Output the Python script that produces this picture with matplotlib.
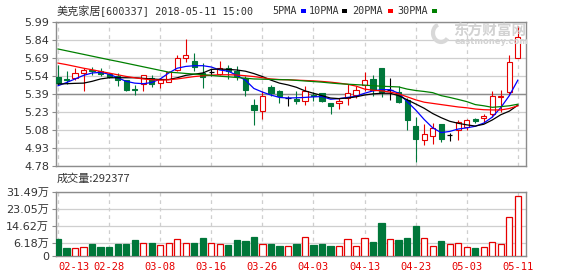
import numpy as np
import matplotlib
matplotlib.use('Agg')
import matplotlib.pyplot as plt
from matplotlib.patches import Rectangle, Arc

plt.rcParams['font.family'] = ['DejaVu Sans', 'Noto Sans CJK SC']

# trading days shown (2018)
dates = ['02-13', '02-14', '02-22', '02-23', '02-26', '02-27', '02-28',
         '03-01', '03-02', '03-05', '03-06', '03-07', '03-08', '03-09', '03-12',
         '03-13', '03-14', '03-15', '03-16', '03-19', '03-20', '03-21', '03-22',
         '03-23', '03-26', '03-27', '03-28', '03-29', '03-30', '04-02', '04-03',
         '04-04', '04-09', '04-10', '04-11', '04-12', '04-13', '04-16', '04-17',
         '04-18', '04-19', '04-20', '04-23', '04-24', '04-25', '04-26', '04-27',
         '05-02', '05-03', '05-04', '05-07', '05-08', '05-09', '05-10', '05-11']

opens = [5.525, 5.51, 5.514, 5.564, 5.587, 5.573, 5.55, 5.531, 5.497, 5.426,
         5.469, 5.522, 5.475, 5.488, 5.587, 5.685, 5.662, 5.564, 5.57, 5.551,
         5.601, 5.573, 5.517, 5.293, 5.237, 5.441, 5.405, 5.35, 5.343, 5.329,
         5.377, 5.391, 5.307, 5.31, 5.349, 5.377, 5.461, 5.509, 5.60, 5.42,
         5.40, 5.33, 5.113, 5.001, 5.035, 5.136, 5.038, 5.08, 5.108, 5.178,
         5.186, 5.22, 5.36, 5.402, 5.682]
highs = [5.629, 5.573, 5.601, 5.601, 5.606, 5.601, 5.56, 5.559, 5.50, 5.461,
         5.545, 5.545, 5.517, 5.575, 5.713, 5.845, 5.727, 5.643, 5.593, 5.657,
         5.629, 5.615, 5.531, 5.34, 5.405, 5.461, 5.419, 5.365, 5.405, 5.447,
         5.399, 5.391, 5.307, 5.349, 5.467, 5.453, 5.565, 5.545, 5.60, 5.515,
         5.451, 5.35, 5.192, 5.136, 5.141, 5.136, 5.057, 5.164, 5.178, 5.186,
         5.214, 5.41, 5.415, 5.71, 5.954]
lows = [5.461, 5.469, 5.497, 5.405, 5.545, 5.531, 5.52, 5.447, 5.405, 5.377,
        5.413, 5.441, 5.433, 5.485, 5.573, 5.649, 5.573, 5.433, 5.531, 5.545,
        5.508, 5.503, 5.363, 5.125, 5.172, 5.363, 5.312, 5.285, 5.301, 5.293,
        5.327, 5.313, 5.217, 5.259, 5.293, 5.349, 5.405, 5.363, 5.36, 5.333,
        5.306, 5.08, 4.814, 4.954, 4.968, 4.982, 4.99, 5.001, 5.08, 5.141,
        5.15, 5.192, 5.235, 5.374, 5.682]
closes = [5.48, 5.497, 5.559, 5.581, 5.576, 5.553, 5.53, 5.497, 5.419, 5.42,
          5.539, 5.469, 5.508, 5.565, 5.685, 5.713, 5.609, 5.525, 5.57, 5.602,
          5.573, 5.531, 5.419, 5.251, 5.368, 5.391, 5.363, 5.35, 5.321, 5.405,
          5.363, 5.329, 5.279, 5.321, 5.391, 5.419, 5.503, 5.419, 5.40, 5.42,
          5.32, 5.165, 5.01, 5.046, 5.102, 5.01, 5.038, 5.147, 5.164, 5.158,
          5.197, 5.371, 5.37, 5.654, 5.858]
# volume in 万手
volumes = [8.2, 3.8, 3.7, 4.6, 5.8, 4.3, 4.3, 5.8, 5.8, 7.7,
           6.3, 6.3, 5.3, 6.6, 8.1, 6.3, 6.3, 8.7, 6.3, 5.8,
           5.3, 7.7, 7.3, 9.2, 5.8, 5.8, 4.8, 5.1, 5.8, 9.5,
           5.3, 5.8, 4.8, 5.1, 8.1, 5.1, 8.6, 6.8, 16.1, 8.1,
           7.7, 8.7, 14.6, 8.6, 5.1, 7.3, 5.8, 6.3, 4.6, 3.8,
           4.2, 6.8, 5.8, 19.3, 29.2377]

ma5 = [5.453, 5.48, 5.51, 5.54, 5.56, 5.565, 5.55, 5.52, 5.49, 5.475,
       5.47, 5.48, 5.51, 5.56, 5.60, 5.615, 5.621, 5.621, 5.61, 5.585,
       5.575, 5.54, 5.50, 5.43, 5.40, 5.375, 5.355, 5.35, 5.352, 5.355,
       5.36, 5.362, 5.34, 5.345, 5.355, 5.365, 5.39, 5.41, 5.42, 5.42,
       5.39, 5.32, 5.25, 5.17, 5.10, 5.06, 5.07, 5.09, 5.10, 5.113,
       5.14, 5.19, 5.27, 5.37, 5.50]
ma10 = [5.467, 5.47, 5.473, 5.475, 5.49, 5.51, 5.52, 5.52, 5.52, 5.52,
        5.515, 5.51, 5.505, 5.505, 5.52, 5.54, 5.55, 5.56, 5.59, 5.593,
        5.59, 5.585, 5.575, 5.555, 5.53, 5.50, 5.475, 5.46, 5.44, 5.41,
        5.39, 5.37, 5.35, 5.345, 5.35, 5.36, 5.375, 5.385, 5.39, 5.39,
        5.37, 5.335, 5.30, 5.264, 5.22, 5.185, 5.155, 5.138, 5.125, 5.115,
        5.13, 5.166, 5.21, 5.24, 5.29]
ma20 = [5.643, 5.63, 5.615, 5.60, 5.587, 5.573, 5.559, 5.545, 5.531, 5.52,
        5.51, 5.503, 5.50, 5.503, 5.51, 5.52, 5.53, 5.537, 5.542, 5.545,
        5.545, 5.543, 5.537, 5.53, 5.52, 5.51, 5.505, 5.503, 5.50, 5.497,
        5.494, 5.489, 5.483, 5.475, 5.465, 5.45, 5.425, 5.415, 5.41, 5.40,
        5.385, 5.36, 5.335, 5.315, 5.305, 5.295, 5.285, 5.275, 5.268, 5.258,
        5.252, 5.25, 5.25, 5.262, 5.285]
ma30 = [5.761, 5.746, 5.731, 5.716, 5.701, 5.686, 5.671, 5.657, 5.642, 5.627,
        5.612, 5.597, 5.582, 5.567, 5.562, 5.556, 5.551, 5.546, 5.540, 5.533,
        5.528, 5.522, 5.516, 5.510, 5.508, 5.506, 5.504, 5.503, 5.498, 5.493,
        5.488, 5.483, 5.476, 5.470, 5.466, 5.462, 5.458, 5.453, 5.449, 5.446,
        5.443, 5.425, 5.413, 5.405, 5.395, 5.37, 5.355, 5.338, 5.32, 5.295,
        5.285, 5.272, 5.278, 5.285, 5.298]

price_ticks = ['4.78', '4.93', '5.08', '5.23', '5.39', '5.54', '5.69', '5.84', '5.99']
vol_ticks = [0, 6.18, 14.62, 23.05, 31.49]
vol_tick_labels = ['0', '6.18万', '14.62万', '23.05万', '31.49万']

RED = '#e60000'
GREEN = '#00773a'
GRID = '#cfcfcf'
FRAME = '#8c8c8c'
TXT = '#333333'

fig = plt.figure(figsize=(5.78, 2.76), dpi=100)
W, H = 578.0, 276.0
ax1 = fig.add_axes([55.5 / W, 110 / H, 470 / W, 144.3 / H])
ax2 = fig.add_axes([55.5 / W, 20 / H, 470 / W, 64.3 / H])

x = np.arange(len(dates))
o = np.array(opens); c = np.array(closes)
hi = np.array(highs); lo = np.array(lows)
up = c > o
down = c < o
flat = c == o

cw = 0.62
cols = np.where(up, RED, np.where(down, GREEN, 'black'))
ax1.vlines(x, lo, hi, colors=cols, lw=0.8, zorder=2)
ax1.bar(x[up], c[up] - o[up], cw, bottom=o[up], facecolor='white',
        edgecolor=RED, lw=0.8, zorder=3)
ax1.bar(x[down], o[down] - c[down], cw, bottom=c[down], facecolor=GREEN,
        edgecolor=GREEN, lw=0.8, zorder=3)
ax1.hlines(c[flat], x[flat] - cw / 2, x[flat] + cw / 2, colors='black', lw=0.9, zorder=3)

ax1.plot(x, ma5, color='#0000ff', lw=0.9, zorder=4)
ax1.plot(x, ma10, color='black', lw=0.9, zorder=4)
ax1.plot(x, ma20, color='#ff0000', lw=0.9, zorder=4)
ax1.plot(x, ma30, color='#008000', lw=0.9, zorder=4)

xt = x[::6]
for ax in (ax1, ax2):
    ax.set_xlim(-0.3, 54.9)
    ax.set_xticks(xt)
    ax.grid(axis='x', color=GRID, ls=(0, (3, 3)), lw=0.9)
    ax.grid(axis='y', color=GRID, ls='-', lw=0.9)
    ax.set_axisbelow(True)
    for s in ax.spines.values():
        s.set_color(FRAME)
        s.set_linewidth(1.0)
    ax.tick_params(axis='y', length=3, color=FRAME, labelsize=8, labelcolor=TXT, pad=1.5)

ylev = np.linspace(4.78, 5.99, 9)
ax1.set_ylim(4.78, 5.99)
ax1.set_yticks(ylev)
ax1.set_yticklabels(price_ticks)
ax1.axhline(ylev[4], color=FRAME, lw=1.0, zorder=1)
ax1.tick_params(axis='x', length=0, labelbottom=False)

vup = c >= o
v = np.array(volumes)
ax2.bar(x[vup], v[vup], 0.74, facecolor='white', edgecolor=RED, lw=0.9, zorder=3)
ax2.bar(x[~vup], v[~vup], 0.74, facecolor=GREEN, edgecolor=GREEN, lw=0.9, zorder=3)
ax2.set_ylim(0, 31.49)
ax2.set_yticks(vol_ticks)
ax2.set_yticklabels(vol_tick_labels)
ax2.set_xticklabels([dates[i] for i in xt], family='DejaVu Sans Mono', fontsize=7.5, color=RED)
ax2.tick_params(axis='x', length=0, pad=4)
ax2.get_xticklabels()[0].set_ha('left')
ax2.get_xticklabels()[0].set_x(-0.3)


def fx(px):
    return px / W


def fy(py):
    return 1 - py / H


# header
fig.text(fx(57), fy(11), '美克家居', family=['Noto Sans CJK SC', 'DejaVu Sans'],
         fontsize=8, color=TXT, va='center')
fig.text(fx(100), fy(11), '[600337] 2018-05-11 15:00', family='DejaVu Sans Mono',
         fontsize=7.3, color=TXT, va='center')
legend = [('5PMA', 272, '#0000ff'), ('10PMA', 309, 'black'),
          ('20PMA', 352, '#ff0000'), ('30PMA', 397, '#008000')]
for name, px, col in legend:
    fig.text(fx(px), fy(11), name, family='DejaVu Sans Mono', fontsize=7.3,
             color=TXT, va='center')
legend_dash = [301, 342, 388, 432]
for (name, px, col), dx in zip(legend, legend_dash):
    fig.add_artist(Rectangle((fx(dx), fy(12.5)), 5 / W, 3 / H, transform=fig.transFigure,
                             facecolor=col, edgecolor='none'))

fig.text(fx(57), fy(179), '成交量:292377', family=['Noto Sans CJK SC', 'DejaVu Sans'],
         fontsize=8, color=TXT, va='center')

# watermark
fig.add_artist(Arc((fx(441), fy(33)), 16 / W, 18 / H, theta1=100, theta2=300,
                   transform=fig.transFigure, color='#d8d8d8', lw=3))
fig.text(fx(453), fy(31), '东方财富网', family=['Noto Sans CJK SC'], fontsize=10.5,
         fontweight='bold', color='#d2d2d2', va='center', zorder=0)
fig.text(fx(455), fy(42), 'eastmoney.com', fontsize=6, fontweight='bold',
         color='#d2d2d2', va='center', zorder=0)

fig.savefig('out.png', dpi=100, facecolor='white')
